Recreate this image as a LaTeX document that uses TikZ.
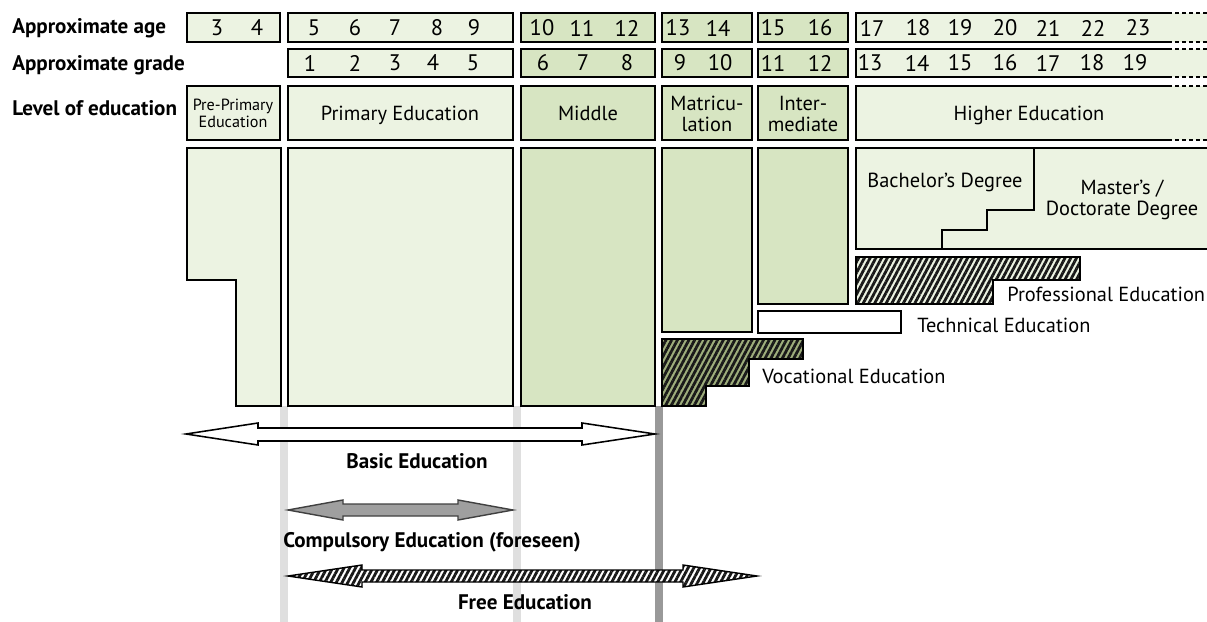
\documentclass[tikz,border=0pt]{standalone}
\usepackage{fontspec}
\setmainfont{PT Sans}
\usepackage{tikz}
\usetikzlibrary{patterns.meta}
\definecolor{lgreen}{RGB}{236,243,226}
\definecolor{mgreen}{RGB}{215,229,194}
\definecolor{ogreen}{RGB}{158,174,124}
\tikzset{
  box/.style={draw=black, line width=1.3pt}, % every outlined block
  lightbox/.style={box, fill=lgreen},
  midbox/.style={box, fill=mgreen},
  stripes/.style={pattern={Lines[angle=62, distance=3.6pt, line width=2pt]}, pattern color=black!90},
  numtxt/.style={font=\fontsize{16}{16}\selectfont, inner sep=0pt},
  lvltxt/.style={font=\fontsize{14.5}{15.5}\selectfont, align=center, inner sep=0pt},
  smalltxt/.style={font=\fontsize{11.5}{12}\selectfont, align=center, inner sep=0pt},
  rowlbl/.style={font=\bfseries\fontsize{15}{16}\selectfont, anchor=base west, inner sep=0pt},
  arrlbl/.style={font=\bfseries\fontsize{15}{16}\selectfont, anchor=base, inner sep=0pt},
  guide/.style={line width=5pt},
}

\begin{document}
\begin{tikzpicture}[x=0.025cm, y=-0.025cm]
  \useasboundingbox (0,0) rectangle (1207,622);

  % Row labels
  \node[rowlbl] at (12,34) (lblage){Approximate age};
  \node[rowlbl] at (12,71) (lblgrade){Approximate grade};
  \node[rowlbl] at (12,116) (lbllevel){Level of education};

  % Header boxes (age, grade, level)
  \draw[lightbox] (187,13) rectangle (280,42);
  \draw[lightbox] (187,86) rectangle (280,140);
  \foreach \t/\b in {13/42,49/77,86/140}
  {
    \draw[lightbox] (288,\t) rectangle (513,\b);
    \draw[midbox] (521,\t) rectangle (655,\b);
    \draw[midbox] (662,\t) rectangle (752,\b);
    \draw[midbox] (758,\t) rectangle (848,\b);
    \fill[lgreen] (856,\t) rectangle (1207,\b);
    \draw[box] (1168,\t) -- (856,\t) -- (856,\b) -- (1168,\b);
    \draw[box, dash pattern=on 3pt off 2pt] (1168,\t) -- (1207,\t) (1168,\b) -- (1207,\b);
  }

  % Ages
  \foreach \n/\x in {3/217,4/257,5/314,6/355,7/395,8/437,9/474,10/542,11/582,12/627,
    13/678,14/718,15/773,16/820,17/872,18/918,19/960,20/1005,21/1048,22/1093,23/1138}
  {
    \node[numtxt] at (\x,28) (age\n){\n};
  }

  % Grades
  \foreach \n/\x in {1/310,2/355,3/395,4/433,5/473,6/543,7/583,8/627,9/680,10/720,
    11/773,12/820,13/870,14/917,15/960,16/1005,17/1048,18/1092,19/1135}
  {
    \node[numtxt] at (\x,63) (grade\n){\n};
  }

  % Levels
  \node[smalltxt] at (233,113) (lvlpre){Pre-Primary\\Education};
  \node[lvltxt, anchor=base] at (400,121) (lvlprim){Primary Education};
  \node[lvltxt, anchor=base] at (588,121) (lvlmid){Middle};
  \node[lvltxt] at (707,114) (lvlmat){Matricu-\\lation};
  \node[lvltxt] at (803,114) (lvlint){Inter-\\mediate};
  \node[lvltxt, anchor=base] at (1029,121) (lvlhigh){Higher Education};

  % Guide lines
  \draw[guide, gray!25] (284,406) -- (284,622);
  \draw[guide, gray!25] (517,406) -- (517,622);
  \draw[guide, gray!80] (659,406) -- (659,622);

  % School blocks
  \draw[lightbox] (187,148) -- (281,148) -- (281,406) -- (236,406) -- (236,280) -- (187,280) -- cycle;
  \draw[lightbox] (288,148) rectangle (513,406);
  \draw[midbox] (521,148) rectangle (655,406);
  \draw[midbox] (662,148) rectangle (752,332);
  \draw[midbox] (758,148) rectangle (848,304);

  % Higher education
  \fill[lgreen] (856,148) rectangle (1207,249);
  \draw[box] (1207,148) -- (856,148) -- (856,249) -- (1207,249);
  \draw[box] (1034,148) -- (1034,210) -- (987,210) -- (987,230) -- (942,230) -- (942,249);
  \node[lvltxt, anchor=base] at (945,188) (bach){Bachelor's Degree};
  \node[lvltxt] at (1122,200) (mast){Master's /\\Doctorate Degree};

  % Professional, technical, vocational
  \draw[box, preaction={fill=lgreen}, stripes] (856,257) -- (1080,257) -- (1080,280)
    -- (993,280) -- (993,304) -- (856,304) -- cycle;
  \node[lvltxt, anchor=base west] at (1007,302) (prof){Professional Education};
  \draw[box, line width=1pt, fill=white] (758,311) rectangle (901,333);
  \node[lvltxt, anchor=base west] at (917,332) (tech){Technical Education};
  \draw[box, preaction={fill=ogreen}, stripes] (662,339) -- (803,339) -- (803,359)
    -- (749,359) -- (749,386) -- (706,386) -- (706,406) -- (662,406) -- cycle;
  \node[lvltxt, anchor=base west] at (762,383) (voc){Vocational Education};

  % Basic Education
  \draw[line width=1.1pt, fill=white] (186,434) -- (258,423) -- (258,428) -- (582,428)
    -- (582,423) -- (655,434) -- (582,445) -- (582,441) -- (258,441) -- (258,445) -- cycle;
  \node[arrlbl] at (417,468) (basic){Basic Education};

  % Compulsory Education
  \draw[line width=1pt, draw=black!75, fill=gray!75] (288,510) -- (343,500) -- (343,504)
    -- (458,504) -- (458,500) -- (513,510) -- (458,520) -- (458,516) -- (343,516)
    -- (343,520) -- cycle;
  \node[arrlbl] at (432,547) (compul){Compulsory Education (foreseen)};

  % Free Education
  \draw[line width=1pt, preaction={fill=white}, stripes] (288,576) -- (362,565) -- (362,570)
    -- (683,570) -- (683,565) -- (757,576) -- (683,587) -- (683,582) -- (362,582)
    -- (362,587) -- cycle;
  \node[arrlbl] at (525,609) (free){Free Education};
\end{tikzpicture}
\end{document}
